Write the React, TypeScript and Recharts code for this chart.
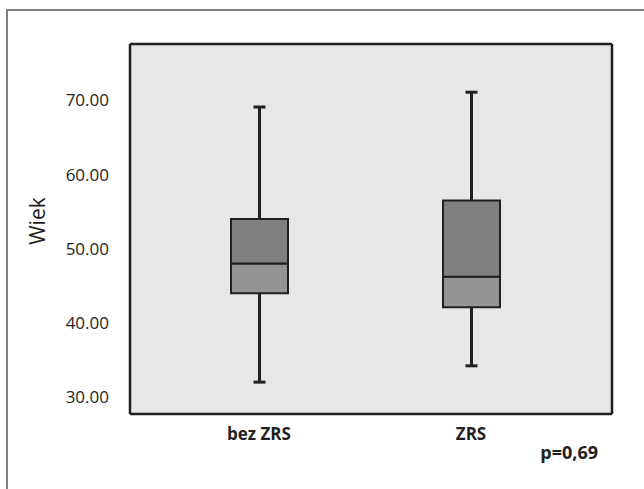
import { Bar, CartesianGrid, ComposedChart, XAxis, YAxis } from "recharts";

// box plot values (Wiek)
const categories = ["bez ZRS", "ZRS"];
const mins = [32.0, 34.2];
const q1s = [44.0, 42.1];
const medians = [48.0, 46.2];
const q3s = [54.0, 56.5];
const maxs = [69.1, 71.1];
const yTicks = [30, 40, 50, 60, 70];
const pValue = "p=0,69";

const data = categories.map((name, i) => ({
    name,
    whisker: [mins[i], maxs[i]],
    lower: [q1s[i], medians[i]],
    upper: [medians[i], q3s[i]],
}));

const INK = "#231f20";
const FONT = "'Open Sans', 'Noto Sans', sans-serif";
const DOMAIN: [number, number] = [27.7, 77.6];

function Whisker(props: any) {
    const { x, y, width, height } = props;
    const cx = x + width / 2;
    const cap = 6;
    return (
        <g stroke={INK} strokeWidth={3}>
            <line x1={cx} x2={cx} y1={y} y2={y + height} />
            <line x1={cx - cap} x2={cx + cap} y1={y} y2={y} />
            <line x1={cx - cap} x2={cx + cap} y1={y + height} y2={y + height} />
        </g>
    );
}

function AxisTitle(props: any) {
    const { viewBox } = props;
    // title sits a little above the middle of the axis in the original
    const x = viewBox.x + 37;
    const y = viewBox.y + viewBox.height / 2 - 8;
    return (
        <text x={x} y={y} transform={`rotate(-90 ${x} ${y})`} textAnchor="middle" dominantBaseline="central"
            fill={INK} fontSize={21} fontFamily={FONT}>
            Wiek
        </text>
    );
}

export default function App() {
    const pad = { left: 23, right: 35 };
    const edge = { stroke: INK, strokeWidth: 2.5 };
    return (
        <div style={{ position: "absolute", left: 0, top: 0, width: 644, height: 489, background: "#fff" }}>
            <div style={{
                position: "absolute", left: 6, top: 9, width: 638, height: 480,
                borderTop: "2px solid #808080", borderLeft: "2px solid #808080",
            }} />
            <div style={{ position: "absolute", left: 0, top: 0 }}>
                <ComposedChart width={644} height={489} data={data}
                    margin={{ top: 43, right: 31, bottom: 0, left: 0 }}>
                    <CartesianGrid fill="#e6e7e8" horizontal={false} vertical={false} />
                    <XAxis xAxisId="lo" dataKey="name" padding={pad} height={75}
                        axisLine={edge} tickLine={false} tickSize={0} tickMargin={14}
                        tick={{ fill: INK, fontSize: 17, fontWeight: 700, fontFamily: FONT }} />
                    <XAxis xAxisId="w" dataKey="name" padding={pad} orientation="top" height={1}
                        axisLine={edge} tickLine={false} tick={false} />
                    <XAxis xAxisId="hi" dataKey="name" padding={pad} orientation="top" height={0} hide />
                    <YAxis domain={DOMAIN} ticks={yTicks} width={130} allowDataOverflow
                        tickFormatter={(v) => Number(v).toFixed(2)}
                        axisLine={edge} tickLine={false} tickSize={0} tickMargin={21}
                        tick={{ fill: INK, fontSize: 17, fontFamily: FONT }}
                        label={<AxisTitle />} />
                    <YAxis yAxisId="r" orientation="right" width={1} domain={DOMAIN} tick={false} tickLine={false}
                        axisLine={edge} />
                    <Bar xAxisId="w" dataKey="whisker" barSize={57} shape={<Whisker />} isAnimationActive={false} />
                    <Bar xAxisId="lo" dataKey="lower" barSize={57} fill="#939496" stroke={INK} strokeWidth={2}
                        isAnimationActive={false} />
                    <Bar xAxisId="hi" dataKey="upper" barSize={57} fill="#808081" stroke={INK} strokeWidth={2}
                        isAnimationActive={false} />
                </ComposedChart>
            </div>
            <div style={{
                position: "absolute", right: 46, top: 440, fontFamily: FONT, fontWeight: 700,
                fontSize: 18, color: INK,
            }}>
                {pValue}
            </div>
        </div>
    );
}
